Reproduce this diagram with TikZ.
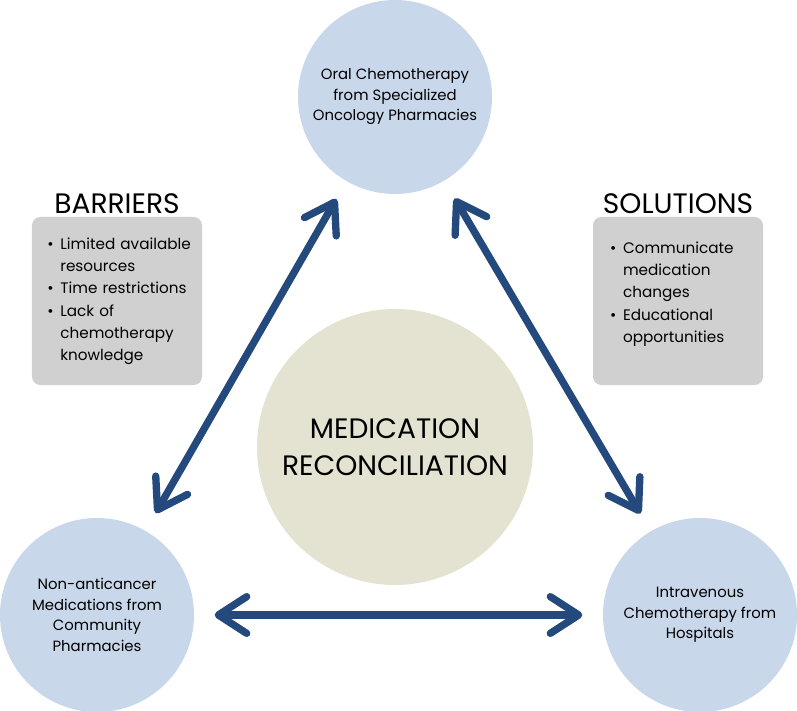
\documentclass[tikz,border=0pt]{standalone}
\usepackage{fontspec}
\setmainfont{Poppins}
\usepackage{enumitem}
\usetikzlibrary{arrows.meta,positioning}
\definecolor{arrowblue}{RGB}{36,74,125}
\definecolor{siteblue}{RGB}{201,215,234}
\definecolor{recbeige}{RGB}{228,227,209}
\definecolor{boxgray}{RGB}{208,208,208}
\tikzset{
  site/.style={circle,fill=siteblue,minimum size=5.82cm,inner sep=0pt,outer sep=0pt,
    align=center,font=\fontsize{12.7}{17.5}\selectfont},
  hub/.style={circle,fill=recbeige,minimum size=8.28cm,inner sep=0pt,outer sep=0pt,
    align=center,font=\fontsize{24}{32}\selectfont},
  notebox/.style={rectangle,rounded corners=0.25cm,fill=boxgray,minimum width=5.1cm,
    minimum height=5.04cm,inner sep=0pt},
  notehead/.style={font=\fontsize{24}{26}\selectfont},
  notelist/.style={inner sep=0pt,text width=4.6cm,align=left,
    font=\fontsize{13}{19}\selectfont},
  link/.style={{Straight Barb[length=0.85cm,width=1.1cm,round]}-{Straight Barb[length=0.85cm,width=1.1cm,round]},
    line width=0.22cm,arrowblue,shorten <=0.62cm,shorten >=0.62cm}
}
\newcommand{\noteitems}[1]{\begin{itemize}[leftmargin=0.4cm,labelsep=0.2cm,itemsep=0pt,
  topsep=0pt,parsep=0pt,partopsep=0pt]#1\end{itemize}}
\begin{document}
\begin{tikzpicture}[x=0.03cm,y=-0.03cm]
  \useasboundingbox (0,0) rectangle (797,710);
  \draw
    (395,97) node[site] (oral){Oral Chemotherapy\\from Specialized\\Oncology Pharmacies}
    (97,615) node[site] (comm){Non-anticancer\\Medications from\\Community\\Pharmacies}
    (700,615) node[site] (iv){Intravenous\\Chemotherapy from\\Hospitals}
    (395,447) node[hub] (rec){MEDICATION\\RECONCILIATION};
  % barriers and solutions
  \node[notebox] (barbox) at (117,301) {};
  \node[notehead, above=-1pt of barbox] (barhead) {BARRIERS};
  \node[notelist, below right=0.3cm and 0.45cm of barbox.north west] (barlist)
    {\noteitems{\item Limited available\\resources \item Time restrictions
      \item Lack of\\chemotherapy\\knowledge}};
  \node[notebox] (solbox) at (678,301) {};
  \node[notehead, above=-1pt of solbox] (solhead) {SOLUTIONS};
  \node[notelist, below right=0.42cm and 0.5cm of solbox.north west] (sollist)
    {\noteitems{\item Communicate\\medication\\changes \item Educational\\opportunities}};
  \begin{scope}[link]
    \draw (oral) to (comm);
    \draw (oral) to (iv);
    \draw (comm) to (iv);
  \end{scope}
\end{tikzpicture}
\end{document}
